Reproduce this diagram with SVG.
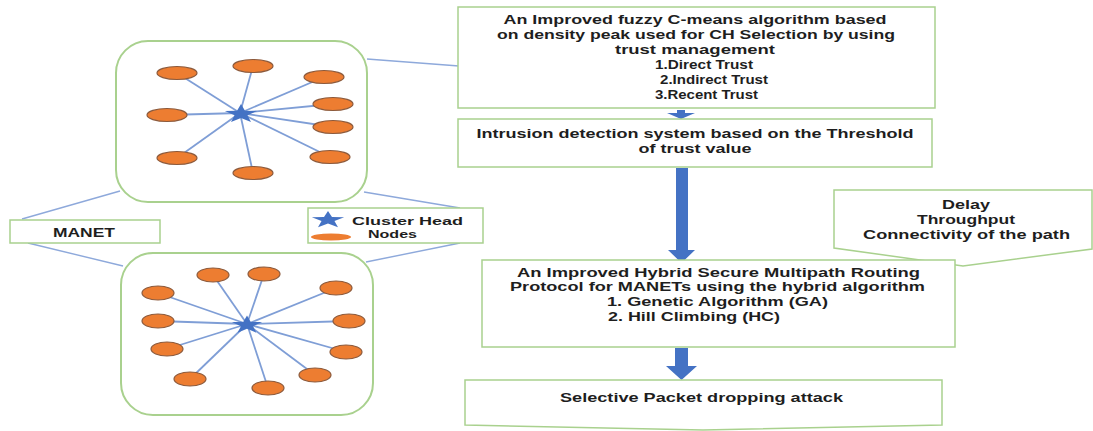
<svg xmlns="http://www.w3.org/2000/svg" xmlns:xlink="http://www.w3.org/1999/xlink" width="1093" height="431" viewBox="0 0 1093 431">
<style>
.box{fill:#fff;stroke:#A9D18E;stroke-width:1.5}
.clu{fill:#fff;stroke:#A9D18E;stroke-width:2}
.t{font-family:"Liberation Sans",Arial,sans-serif;font-weight:700;font-size:12px;fill:#1e1e1e;text-anchor:middle}
.ts{text-anchor:start}
.sm{font-size:11px}
.link{stroke:#8EA9DB;stroke-width:1.4;fill:none}
.spoke{stroke:#7F9ED6;stroke-width:1.8}
.node{fill:#ED7D31;stroke:#8C5A3C;stroke-width:1.2}
.star{fill:#4472C4}
.arr{fill:#4472C4}
</style>
<defs>
<path id="star" d="M0,-1 L0.235,-0.324 L0.951,-0.309 L0.380,0.124 L0.588,0.809 L0,0.4 L-0.588,0.809 L-0.380,0.124 L-0.951,-0.309 L-0.235,-0.324 Z"/>
</defs>
<rect width="1093" height="431" fill="#fff"/>

<g id="connectors">
<line class="link" x1="22" y1="219" x2="120" y2="191"/>
<line class="link" x1="28" y1="243" x2="123" y2="266"/>
<line class="link" x1="460" y1="208" x2="364" y2="192"/>
<line class="link" x1="460" y1="243" x2="366" y2="262"/>
<line class="link" x1="367" y1="59" x2="459" y2="66"/>
<path class="arr" d="M677,110 H685 V113 H695 L681,119 L667,113 H677 Z"/>
<path class="arr" d="M676,168 H688 V250 H695 L681.5,263 L668,250 H676 Z"/>
<path class="arr" d="M675,348 H688 V366 H697 L681.5,380 L666,366 H675 Z"/>
</g>

<g id="cluster-top">
<rect class="clu" x="116" y="41" width="251" height="161" rx="32"/>
<g class="spoke">
<line x1="240" y1="113" x2="177" y2="73"/>
<line x1="240" y1="113" x2="253" y2="66"/>
<line x1="240" y1="113" x2="324" y2="77"/>
<line x1="240" y1="113" x2="333" y2="104"/>
<line x1="240" y1="113" x2="167" y2="115"/>
<line x1="240" y1="113" x2="333" y2="127"/>
<line x1="240" y1="113" x2="177" y2="158"/>
<line x1="240" y1="113" x2="330" y2="157"/>
<line x1="240" y1="113" x2="253" y2="173"/>
</g>
<ellipse class="node" cx="177" cy="73" rx="20" ry="6.5"/>
<ellipse class="node" cx="253" cy="66" rx="20" ry="6.5"/>
<ellipse class="node" cx="324" cy="77" rx="20" ry="6.5"/>
<ellipse class="node" cx="333" cy="104" rx="20" ry="6.5"/>
<ellipse class="node" cx="167" cy="115" rx="20" ry="6.5"/>
<ellipse class="node" cx="333" cy="127" rx="20" ry="6.5"/>
<ellipse class="node" cx="177" cy="158" rx="20" ry="6.5"/>
<ellipse class="node" cx="330" cy="157" rx="20" ry="6.5"/>
<ellipse class="node" cx="253" cy="173" rx="20" ry="6.5"/>
<use href="#star" class="star" transform="translate(241,114) scale(17,10)"/>
</g>

<g id="cluster-bottom">
<rect class="clu" x="121" y="253" width="252" height="162" rx="32"/>
<g class="spoke">
<line x1="247" y1="324" x2="213" y2="275"/>
<line x1="247" y1="324" x2="264" y2="274"/>
<line x1="247" y1="324" x2="336" y2="288"/>
<line x1="247" y1="324" x2="158" y2="293"/>
<line x1="247" y1="324" x2="158" y2="321"/>
<line x1="247" y1="324" x2="349" y2="321"/>
<line x1="247" y1="324" x2="167" y2="349"/>
<line x1="247" y1="324" x2="346" y2="352"/>
<line x1="247" y1="324" x2="190" y2="379"/>
<line x1="247" y1="324" x2="315" y2="375"/>
<line x1="247" y1="324" x2="268" y2="388"/>
</g>
<ellipse class="node" cx="213" cy="275" rx="16" ry="7"/>
<ellipse class="node" cx="264" cy="274" rx="16" ry="7"/>
<ellipse class="node" cx="336" cy="288" rx="16" ry="7"/>
<ellipse class="node" cx="158" cy="293" rx="16" ry="7"/>
<ellipse class="node" cx="158" cy="321" rx="16" ry="7"/>
<ellipse class="node" cx="349" cy="321" rx="16" ry="7"/>
<ellipse class="node" cx="167" cy="349" rx="16" ry="7"/>
<ellipse class="node" cx="346" cy="352" rx="16" ry="7"/>
<ellipse class="node" cx="190" cy="379" rx="16" ry="7"/>
<ellipse class="node" cx="315" cy="375" rx="16" ry="7"/>
<ellipse class="node" cx="268" cy="388" rx="16" ry="7"/>
<use href="#star" class="star" transform="translate(247,325) scale(16,9.5)"/>
</g>

<g id="manet">
<rect class="box" x="10" y="220" width="150" height="23"/>
<text class="t" x="84" y="236.5" textLength="62" lengthAdjust="spacingAndGlyphs">MANET</text>
</g>

<g id="legend">
<rect class="box" x="308" y="208" width="175" height="35"/>
<use href="#star" class="star" transform="translate(328,220) scale(17,9)"/>
<ellipse cx="331" cy="237" rx="20" ry="3.5" fill="#ED7D31"/>
<text class="t sm" x="407.5" y="225" textLength="111" lengthAdjust="spacingAndGlyphs">Cluster Head</text>
<text class="t sm" x="392.5" y="237.5" textLength="49" lengthAdjust="spacingAndGlyphs">Nodes</text>
</g>

<g id="box-fcm">
<rect class="box" x="458" y="7" width="477" height="101"/>
<text class="t" x="695" y="23.5" textLength="383" lengthAdjust="spacingAndGlyphs">An Improved fuzzy C-means algorithm based</text>
<text class="t" x="696" y="39" textLength="398" lengthAdjust="spacingAndGlyphs">on density peak used for CH Selection by using</text>
<text class="t" x="695" y="54" textLength="160" lengthAdjust="spacingAndGlyphs">trust management</text>
<text class="t" x="704" y="69" textLength="98" lengthAdjust="spacingAndGlyphs">1.Direct Trust</text>
<text class="t" x="714" y="84" textLength="108" lengthAdjust="spacingAndGlyphs">2.Indirect Trust</text>
<text class="t" x="706.5" y="99" textLength="103" lengthAdjust="spacingAndGlyphs">3.Recent Trust</text>
</g>

<g id="box-ids">
<rect class="box" x="458" y="119" width="474" height="48"/>
<text class="t" x="695" y="138" textLength="437" lengthAdjust="spacingAndGlyphs">Intrusion detection system based on the Threshold</text>
<text class="t" x="695" y="153" textLength="113" lengthAdjust="spacingAndGlyphs">of trust value</text>
</g>

<g id="box-metrics">
<polygon class="box" points="834,190 1092,190 1092,249 963,266 834,248"/>
<text class="t" x="966" y="208.5" textLength="48" lengthAdjust="spacingAndGlyphs">Delay</text>
<text class="t" x="966" y="223.5" textLength="98" lengthAdjust="spacingAndGlyphs">Throughput</text>
<text class="t" x="966.5" y="239" textLength="207" lengthAdjust="spacingAndGlyphs">Connectivity of the path</text>
</g>

<g id="box-routing">
<rect class="box" x="482" y="260" width="473" height="87"/>
<text class="t" x="718.5" y="277" textLength="403" lengthAdjust="spacingAndGlyphs">An Improved Hybrid Secure Multipath Routing</text>
<text class="t" x="717.5" y="290.5" textLength="415" lengthAdjust="spacingAndGlyphs">Protocol for MANETs using the hybrid algorithm</text>
<text class="t ts" x="607" y="306" textLength="221" lengthAdjust="spacingAndGlyphs">1. Genetic Algorithm (GA)</text>
<text class="t ts" x="608" y="321" textLength="172" lengthAdjust="spacingAndGlyphs">2. Hill Climbing (HC)</text>
</g>

<g id="box-attack">
<polygon class="box" points="465,380 942,380 942,425 703,430 465,425"/>
<text class="t" x="701.5" y="401.5" textLength="283" lengthAdjust="spacingAndGlyphs">Selective Packet dropping attack</text>
</g>
</svg>
